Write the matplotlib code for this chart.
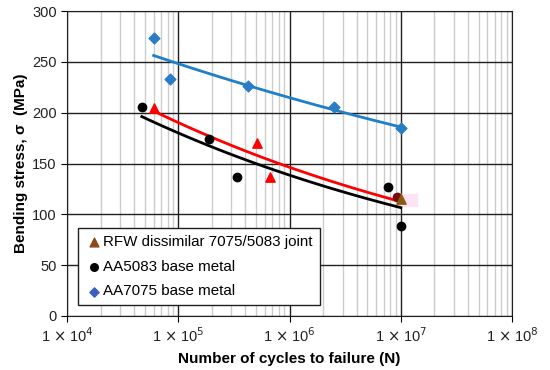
import numpy as np
import matplotlib
matplotlib.use("Agg")
from matplotlib import pyplot as plt
from matplotlib.ticker import LogLocator, FixedLocator

plt.rcParams['font.family'] = ['Liberation Sans', 'DejaVu Sans']

# RFW dissimilar 7075/5083 joint
rfw_n = [6.0e4, 5.1e5, 6.7e5]
rfw_s = [205, 170, 137]
rfw_last_n = [1.0e7]
rfw_last_s = [115]

# AA5083 base metal
aa5083_n = [4.7e4, 1.87e5, 3.4e5, 7.7e6, 9.2e6, 1.0e7]
aa5083_s = [206, 174, 137, 127, 117, 89]

# AA7075 base metal
aa7075_n = [6.0e4, 8.5e4, 4.2e5, 2.5e6, 1.0e7]
aa7075_s = [274, 233, 226, 206, 185]

yticks = [0, 50, 100, 150, 200, 250, 300]


def power_fit(n, s):
    b, a = np.polyfit(np.log(n), np.log(s), 1)
    xs = np.logspace(np.log10(min(n)), np.log10(max(n)), 100)
    return xs, np.exp(a) * xs ** b


fig = plt.figure(figsize=(5.5, 3.7), dpi=100)
ax = fig.add_axes([0.122, 0.146, 0.809, 0.824])
ax.set_xscale('log')
ax.set_xlim(1e4, 1e8)
ax.set_ylim(0, 300)

ax.xaxis.set_minor_locator(LogLocator(base=10, subs=np.arange(2, 10)))
ax.yaxis.set_major_locator(FixedLocator(yticks))
ax.grid(True, which='minor', axis='x', color='#cccccc', lw=1)
ax.grid(True, which='major', color='#202020', lw=1)
ax.set_axisbelow(True)
ax.tick_params(which='minor', length=0)
ax.tick_params(which='major', length=4, direction='out', labelsize=10.5)
for sp in ax.spines.values():
    sp.set_color('#202020')

ax.set_xticks([1e4, 1e5, 1e6, 1e7, 1e8])
ax.set_xticklabels([r'1 $\times$ 10$^{%d}$' % k for k in range(4, 9)], color='#222222')
ax.set_yticklabels([str(v) for v in yticks], color='#222222')

# trend lines
xs, ys = power_fit(aa7075_n, aa7075_s)
ax.plot(xs, ys, color='#1f7fc8', lw=2, zorder=3)
xs, ys = power_fit(aa5083_n, aa5083_s)
ax.plot(xs, ys, color='black', lw=2, zorder=3)
xs, ys = power_fit(rfw_n + rfw_last_n, rfw_s + rfw_last_s)
ax.plot(xs, ys, color='red', lw=2, zorder=3)

# markers
ax.scatter(aa7075_n, aa7075_s, marker='D', s=30, color='#2a7cc7', zorder=4)
ax.scatter(aa5083_n[:4] + aa5083_n[5:], aa5083_s[:4] + aa5083_s[5:], marker='o', s=36, color='black', zorder=4)
ax.scatter(aa5083_n[4:5], aa5083_s[4:5], marker='o', s=36, color='#7a0a0a', zorder=4)
ax.scatter(rfw_n, rfw_s, marker='^', s=45, color='red', zorder=4)
ax.axvspan(9.0e6, 1.4e7, ymin=0.36, ymax=0.40, color='#fde4f4', zorder=1)
ax.scatter(rfw_last_n, rfw_last_s, marker='^', s=45, color='#8a5a10', zorder=5)

# legend proxies
h1 = ax.scatter([], [], marker='^', s=40, color='#8b4a1a')
h2 = ax.scatter([], [], marker='o', s=30, color='black')
h3 = ax.scatter([], [], marker='D', s=22, color='#3a5fc0')
leg = ax.legend([h1, h2, h3],
                ['RFW dissimilar 7075/5083 joint', 'AA5083 base metal', 'AA7075 base metal'],
                loc='lower left', bbox_to_anchor=(0.025, 0.035), fontsize=10.9,
                frameon=True, fancybox=False, edgecolor='#202020', framealpha=1,
                handletextpad=0.0, handlelength=1.2, borderpad=0.45, labelspacing=0.7,
                borderaxespad=0)
leg.get_frame().set_linewidth(1)

ax.set_xlabel('Number of cycles to failure (N)', fontsize=11, fontweight='bold', labelpad=5)
ax.set_ylabel('Bending stress, σ  (MPa)', fontsize=11, fontweight='bold', labelpad=3)

fig.savefig('out.png', dpi=100)
